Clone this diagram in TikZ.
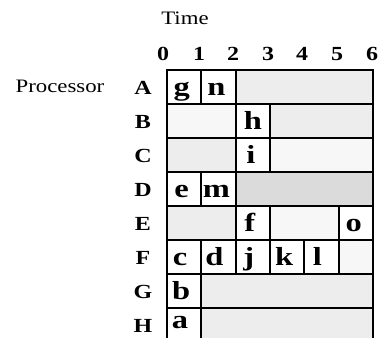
\documentclass[tikz,border=0pt]{standalone}
\usepackage{fontspec}
\setmainfont{Liberation Serif}
\newfontfamily\wide[FakeStretch=1.2]{Liberation Serif}
\newfontfamily\wider[FakeStretch=1.25]{Liberation Serif}
\newcommand\blk[6]{\node[#5, minimum width={(#4-#3)*34.333pt}] (#1) at ({167+(#3+#4)*17.1667}, #2) {#6};}
\begin{document}
\begin{tikzpicture}[x=1pt,y=-1pt,
  box/.style={draw, line width=1.8pt, inner sep=0pt, outer sep=0pt, minimum height=34pt,
    text height=18pt, text depth=2pt, font=\wider\bfseries\fontsize{26}{26}\selectfont},
  task/.style={box, fill=white},
  idle/.style={box, fill=black!7},
  idledark/.style={box, fill=black!14},
  idlelight/.style={box, fill=black!3},
  celltext/.style={inner sep=0pt, anchor=base, font=\wider\bfseries\fontsize{26}{26}\selectfont},
  axis/.style={font=\wide\bfseries\fontsize{20}{20}\selectfont, inner sep=0pt, anchor=base},
  title/.style={font=\wide\fontsize{19}{19}\selectfont, inner sep=0pt, anchor=base}]
\useasboundingbox (0,0) rectangle (379,337);
\clip (0,0) rectangle (379,337);
% titles
\node[title] (time) at (185,25) {Time};
\node[title] (proc) at (60,92) {Processor};
% time ticks
\foreach \t/\xx in {0/163,1/199,2/233,3/268,4/302,5/337,6/372}
  \node[axis] (t\t) at (\xx,60) {\t};
% processor labels
\foreach \p/\yy in {A/87,B/121,C/155,D/189,E/223,F/257,G/291,H/325}
  \node[axis] (p\p) at (143,\yy+7) {\p};
% idle blocks
\blk{Aidle}{87}{2}{6}{idle}{}
\blk{Bidle1}{121}{0}{2}{idlelight}{}
\blk{Bidle2}{121}{3}{6}{idle}{}
\blk{Cidle1}{155}{0}{2}{idle}{}
\blk{Cidle2}{155}{3}{6}{idlelight}{}
\blk{Didle}{189}{2}{6}{idledark}{}
\blk{Eidle1}{223}{0}{2}{idle}{}
\blk{Eidle2}{223}{3}{5}{idlelight}{}
\blk{Fidle}{257}{5}{6}{idlelight}{}
\blk{Gidle}{291}{1}{6}{idle}{}
\blk{Hidle}{325}{1}{6}{idle}{}
% tasks
\blk{g}{87}{0}{1}{task}{g\kern5pt}
\blk{n}{87}{1}{2}{task}{n\kern4pt}
\blk{h}{121}{2}{3}{task}{h}
\blk{i}{155}{2}{3}{task}{i\kern4pt}
\blk{e}{189}{0}{1}{task}{e\kern5pt}
\blk{m}{189}{1}{2}{task}{m\kern4pt}
\blk{f}{223}{2}{3}{task}{f\kern6pt}
\blk{o}{223}{5}{6}{task}{o\kern4pt}
\blk{c}{257}{0}{1}{task}{c\kern8pt}
\blk{d}{257}{1}{2}{task}{d\kern8pt}
\blk{j}{257}{2}{3}{task}{j\kern8pt}
\blk{k}{257}{3}{4}{task}{k\kern6pt}
\blk{l}{257}{4}{5}{task}{l\kern8pt}
\blk{b}{291}{0}{1}{task}{b\kern6pt}
\blk{a}{325}{0}{1}{task}{}
\node[celltext] (atext) at (180,328) {a};
\end{tikzpicture}
\end{document}
